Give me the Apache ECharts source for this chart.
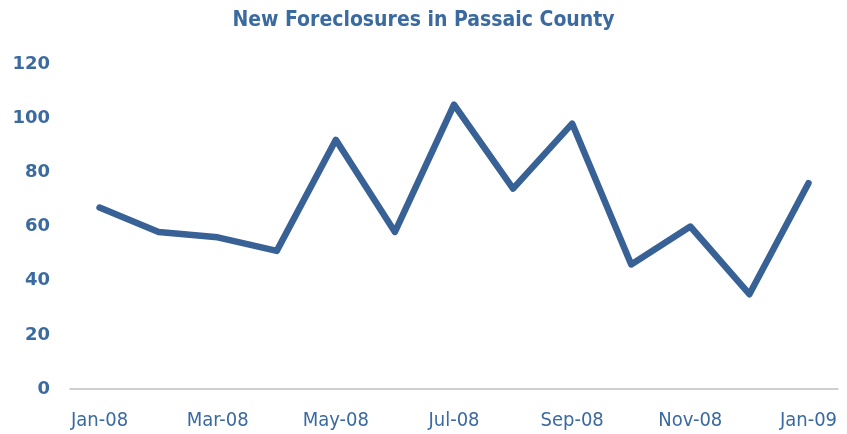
<!DOCTYPE html>
<html><head><meta charset="utf-8">
<script src="https://cdn.jsdelivr.net/npm/echarts@6/dist/echarts.min.js"></script>
<style>html,body{margin:0;padding:0;background:#fff}#c{width:847px;height:434px}</style>
</head><body><div id="c"></div>
<script>
const months = ['Jan-08','Feb-08','Mar-08','Apr-08','May-08','Jun-08','Jul-08','Aug-08','Sep-08','Oct-08','Nov-08','Dec-08','Jan-09'];
const foreclosures = [67,58,56,51,92,58,105,74,98,46,60,35,76];
const chartTitle = 'New Foreclosures in Passaic County';
const color = '#386196';
const chart = echarts.init(document.getElementById('c'));
chart.setOption({
  animation:false,
  title:{text:chartTitle,left:'center',top:5,textStyle:{fontFamily:'DejaVu Sans Condensed',fontSize:21,fontWeight:'bold',color:'#3a6aa0'}},
  grid:{left:70,right:9,top:64,bottom:45},
  xAxis:{type:'category',data:months,boundaryGap:true,
    axisLine:{lineStyle:{color:'#c0c0c0',width:1.5}},axisTick:{show:false},
    axisLabel:{interval:1,color:'#3a6aa0',fontFamily:'DejaVu Sans Condensed',fontSize:20,margin:22}},
  yAxis:{type:'value',min:0,max:120,interval:20,
    axisLine:{show:false},axisTick:{show:false},splitLine:{show:false},
    axisLabel:{color:'#3a6aa0',fontFamily:'DejaVu Sans',fontWeight:'bold',fontSize:18,margin:20}},
  series:[{type:'line',data:foreclosures,symbol:'none',lineStyle:{color:color,width:6.5,cap:'round',join:'round'}}]
});
</script></body></html>
